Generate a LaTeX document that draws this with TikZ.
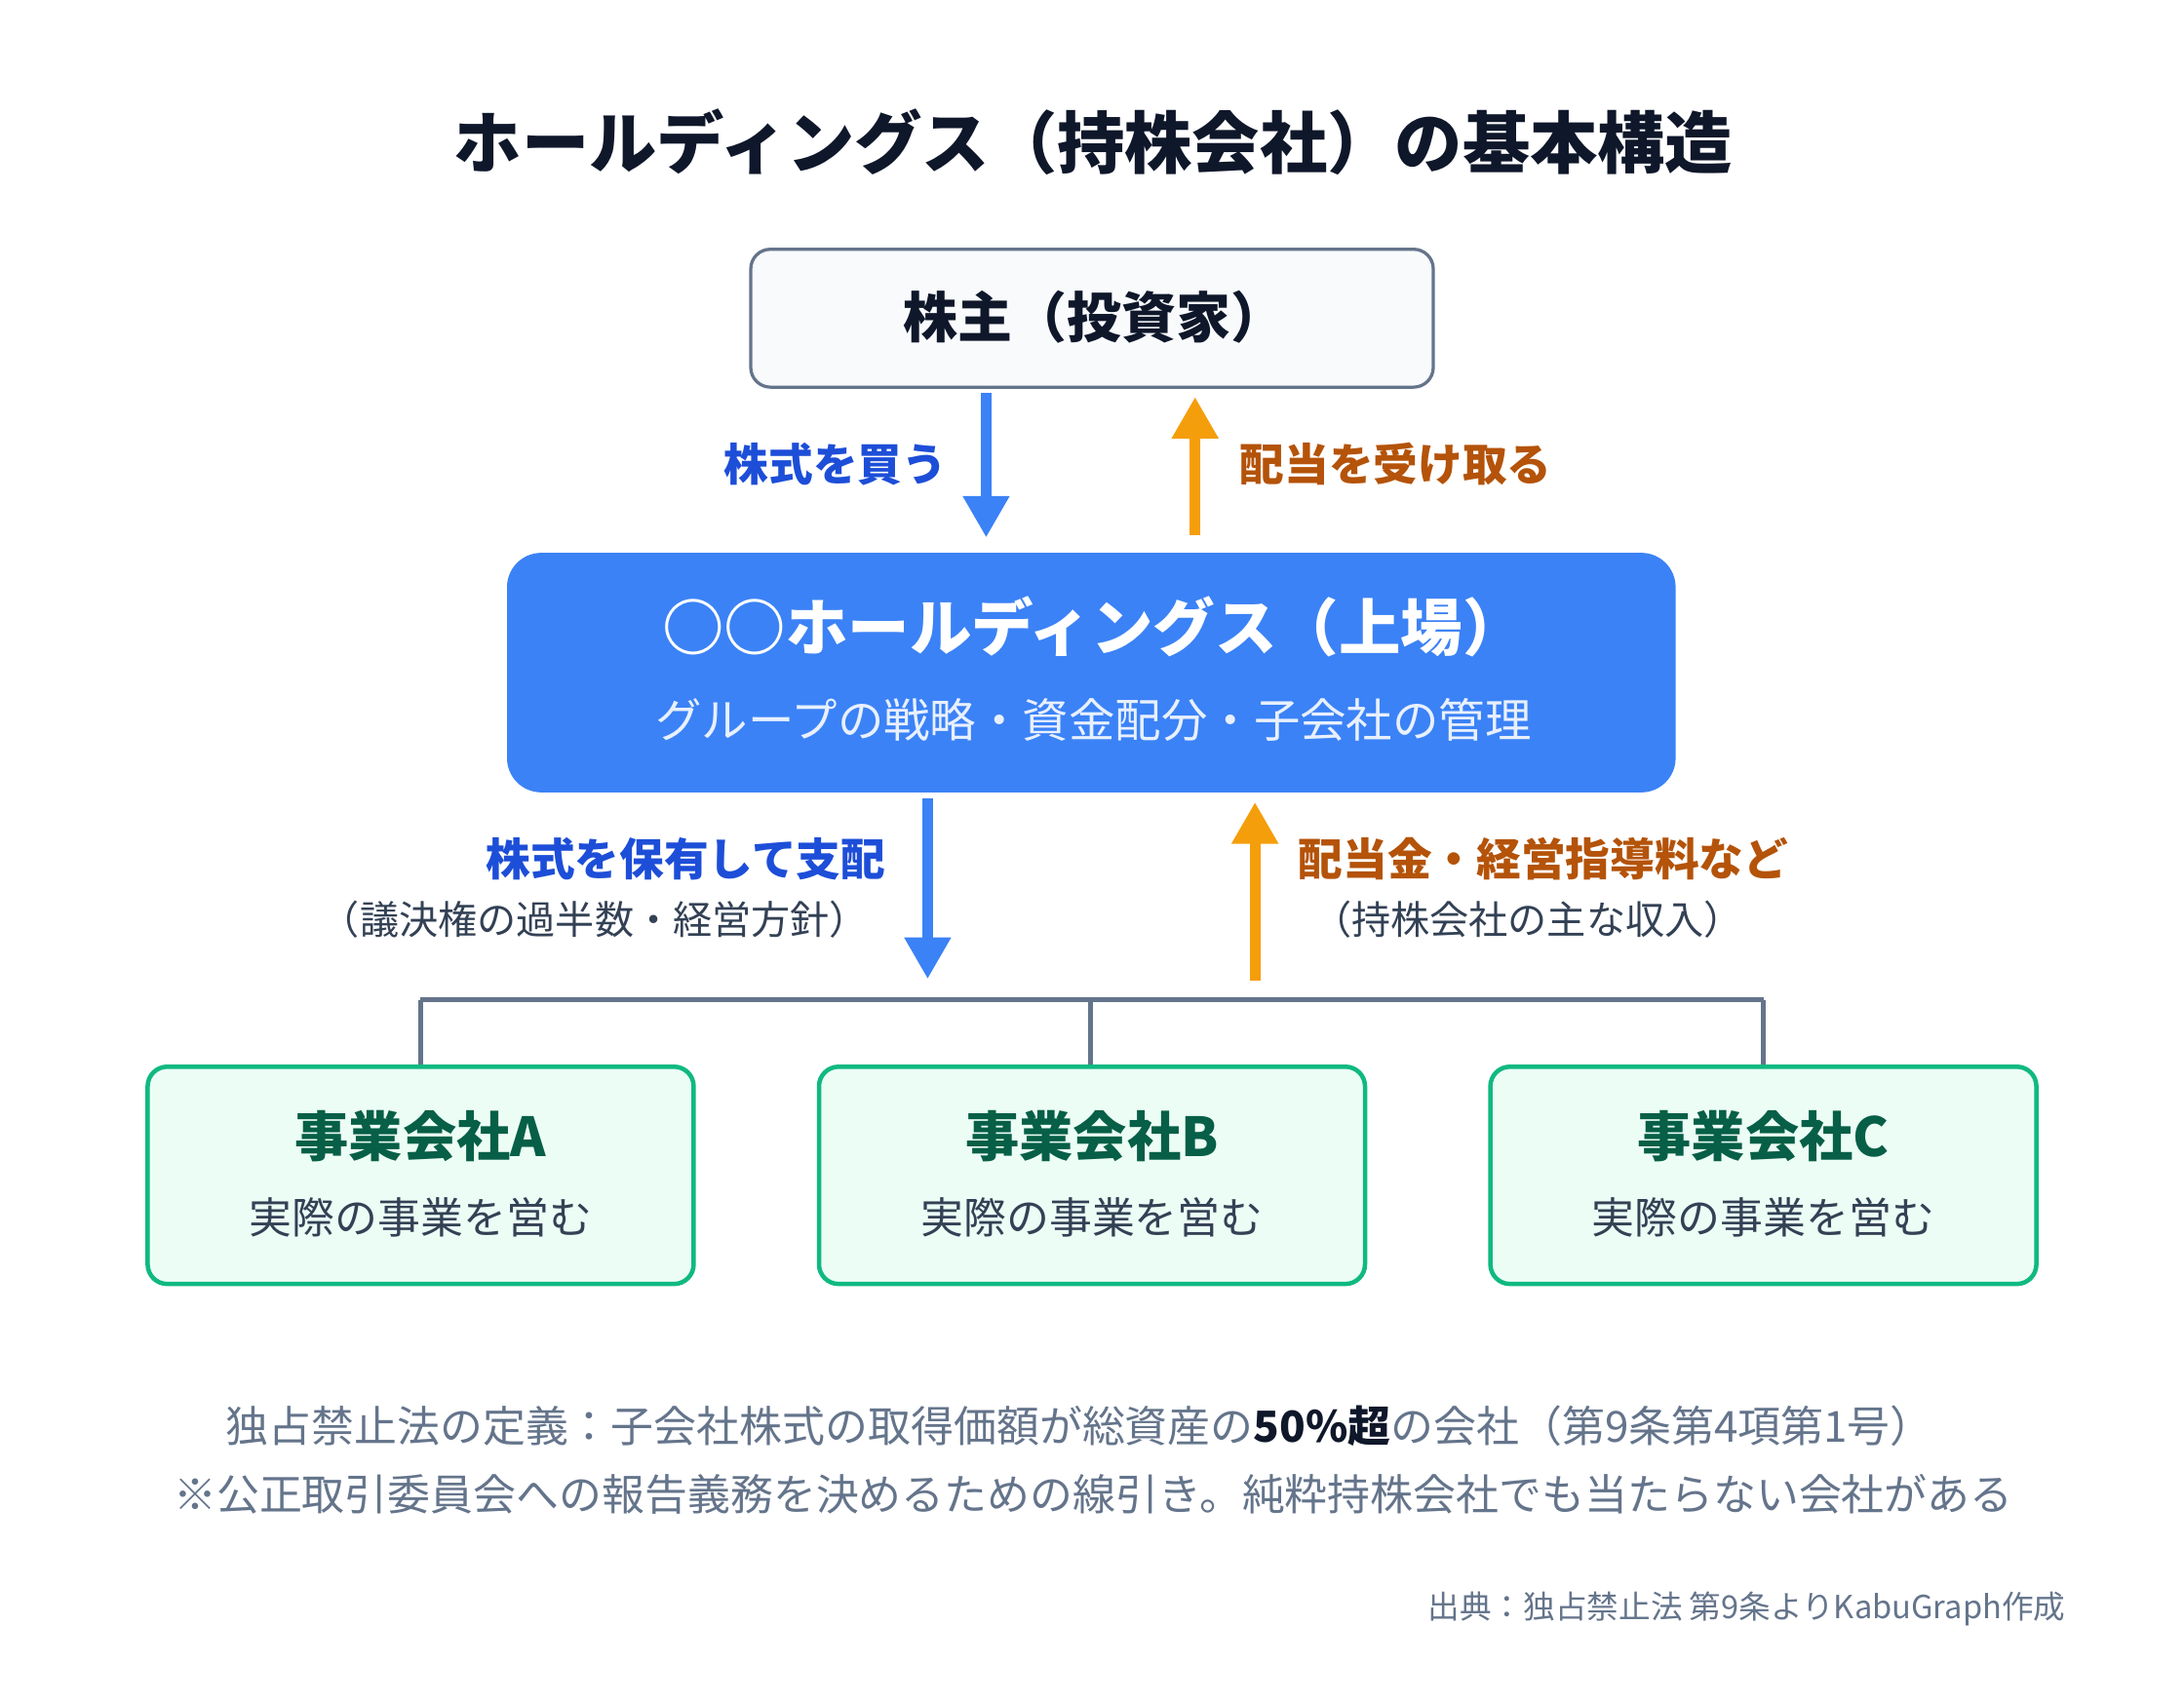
\documentclass[tikz,border=0pt]{standalone}
\usepackage{fontspec}
\setmainfont{Noto Sans CJK JP}
\usetikzlibrary{arrows.meta}
\definecolor{bl}{HTML}{3B82F6}\definecolor{dbl}{HTML}{1D4ED8}
\definecolor{org}{HTML}{F59E0B}\definecolor{dorg}{HTML}{B45309}
\definecolor{sl}{HTML}{64748B}\definecolor{txt}{HTML}{334155}
\definecolor{gr}{HTML}{10B981}\definecolor{dgr}{HTML}{065F46}
\definecolor{lgr}{HTML}{ECFDF5}\definecolor{ink}{HTML}{0F172A}
\definecolor{shb}{HTML}{F8FAFC}\definecolor{subw}{HTML}{E8F0FE}
\begin{document}
\begin{tikzpicture}[x=0.02cm,y=-0.02cm,
 fs/.style={font=\fontsize{#1}{#1}\selectfont},
 fsb/.style={font=\fontsize{#1}{#1}\selectfont\bfseries},
 arr/.style={line width=4.5pt,-{Triangle[width=18pt,length=17pt]}},
 co/.style={draw=gr,fill=lgr,line width=1.8pt,rounded corners=8pt},
 bus/.style={draw=sl,line width=1.8pt}]
\useasboundingbox (0,0) rectangle (1568,1222);
\node[fsb=27.6pt,text=ink] (title) at (785,102) {ホールディングス（持株会社）の基本構造};
\draw[draw=sl,fill=shb,line width=1.3pt,rounded corners=8pt] (539,179) rectangle (1029,278);
\node[fsb=22.3pt,text=ink] (sh) at (786,228) {株主（投資家）};
\coordinate (a1s) at (708,282);\coordinate (a1e) at (708,386);
\draw[arr,draw=bl,fill=bl] (a1s) -- (a1e);
\node[fsb=18.2pt,text=dbl,anchor=east] (l1) at (686,333) {株式を買う};
\coordinate (a2s) at (858,384);\coordinate (a2e) at (858,285);
\draw[arr,draw=org,fill=org] (a2s) -- (a2e);
\node[fsb=18.2pt,text=dorg,anchor=west] (l2) at (884,333) {配当を受け取る};
\fill[bl,rounded corners=14pt] (364,397) rectangle (1203,569);
\node[fsb=25.3pt,text=white] (hd) at (785,450) {○○ホールディングス（上場）};
\node[fs=18.9pt,text=subw] (hs) at (785,517) {グループの戦略・資金配分・子会社の管理};
\coordinate (a3s) at (666,573);\coordinate (a3e) at (666,703);
\draw[arr,draw=bl,fill=bl] (a3s) -- (a3e);
\node[fsb=18.2pt,text=dbl,anchor=east] (l3) at (642,617) {株式を保有して支配};
\node[fs=16pt,text=txt,anchor=east] (l3b) at (630,660) {（議決権の過半数・経営方針）};
\coordinate (a4s) at (901,704);\coordinate (a4e) at (901,576);
\draw[arr,draw=org,fill=org] (a4s) -- (a4e);
\node[fsb=18.2pt,text=dorg,anchor=west] (l4) at (926,617) {配当金・経営指導料など};
\node[fs=16pt,text=txt,anchor=west] (l4b) at (936,660) {（持株会社の主な収入）};
\coordinate (bA) at (302,718);\coordinate (bB) at (783,718);\coordinate (bC) at (1266,718);
\draw[bus] (bA) -- (bC);
\draw[bus] (bA) -- (302,766);\draw[bus] (bB) -- (783,766);\draw[bus] (bC) -- (1266,766);
\foreach \x/\n in {302/A,784/B,1266/C}{
 \draw[co] (\x-196,766) rectangle (\x+196,922);
 \node[fsb=22pt,text=dgr] (c\n) at (\x,816) {事業会社\n};
 \node[fs=17.5pt,text=txt] (s\n) at (\x,874) {実際の事業を営む};
}
\node[fs=17.5pt,text=sl] (f1) at (775,1024) {独占禁止法の定義：子会社株式の取得価額が総資産の\textbf{\textcolor{ink}{50\%超}}の会社（第9条第4項第1号）};
\node[fs=17.5pt,text=sl] (f2) at (785,1073) {※公正取引委員会への報告義務を決めるための線引き。純粋持株会社でも当たらない会社がある};
\node[fs=13pt,text=sl,anchor=east] (src) at (1489,1155) {出典：独占禁止法 第9条よりKabuGraph作成};
\end{tikzpicture}
\end{document}
